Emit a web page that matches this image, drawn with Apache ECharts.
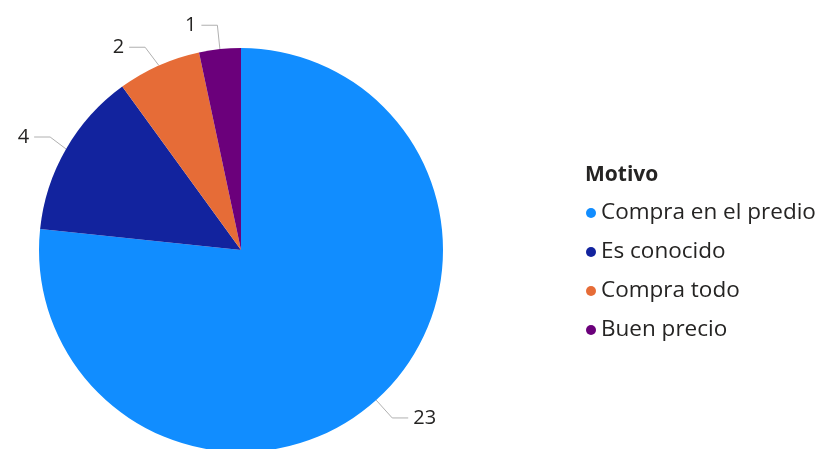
<!DOCTYPE html>
<html>
<head>
<meta charset="utf-8">
<script src="https://cdn.jsdelivr.net/npm/echarts@6/dist/echarts.min.js"></script>
<style>
  html, body { margin: 0; padding: 0; background: #ffffff; }
  #chart { width: 831px; height: 449px; }
</style>
</head>
<body>
<div id="chart"></div>
<script>
// Reasons and counts
const categories = ['Compra en el predio', 'Es conocido', 'Compra todo', 'Buen precio'];
const values = [23, 4, 2, 1];
const colors = ['#118DFF', '#12239E', '#E66C37', '#6B007B'];
const legendTitle = 'Motivo';

const chart = echarts.init(document.getElementById('chart'));
const fontFamily = '"Open Sans", "Noto Sans", sans-serif';

chart.setOption({
  animation: false,
  color: colors,
  title: {
    text: legendTitle,
    left: 585,
    top: 163,
    padding: 0,
    textStyle: { fontFamily, fontSize: 21, fontWeight: 'bold', color: '#252423', lineHeight: 24 }
  },
  legend: {
    orient: 'vertical',
    left: 586,
    top: 201,
    padding: 0,
    icon: 'circle',
    itemWidth: 10,
    itemHeight: 10,
    itemGap: 15,
    selectedMode: false,
    textStyle: { fontFamily, fontSize: 22.5, color: '#252423', lineHeight: 24, padding: [0, 0, 0, 0] },
    data: categories
  },
  series: [{
    type: 'pie',
    center: [241, 250],
    radius: [0, 202],
    startAngle: 90,
    clockwise: true,
    avoidLabelOverlap: true,
    data: categories.map((name, i) => ({ name, value: values[i] })),
    itemStyle: { borderWidth: 0 },
    label: {
      show: true,
      formatter: '{c}',
      fontFamily,
      fontSize: 20,
      color: '#252423'
    },
    labelLine: {
      show: true,
      length: 24,
      length2: 16,
      lineStyle: { color: '#b0b0b0', width: 1 }
    },
    emphasis: { disabled: true }
  }]
});
</script>
</body>
</html>
